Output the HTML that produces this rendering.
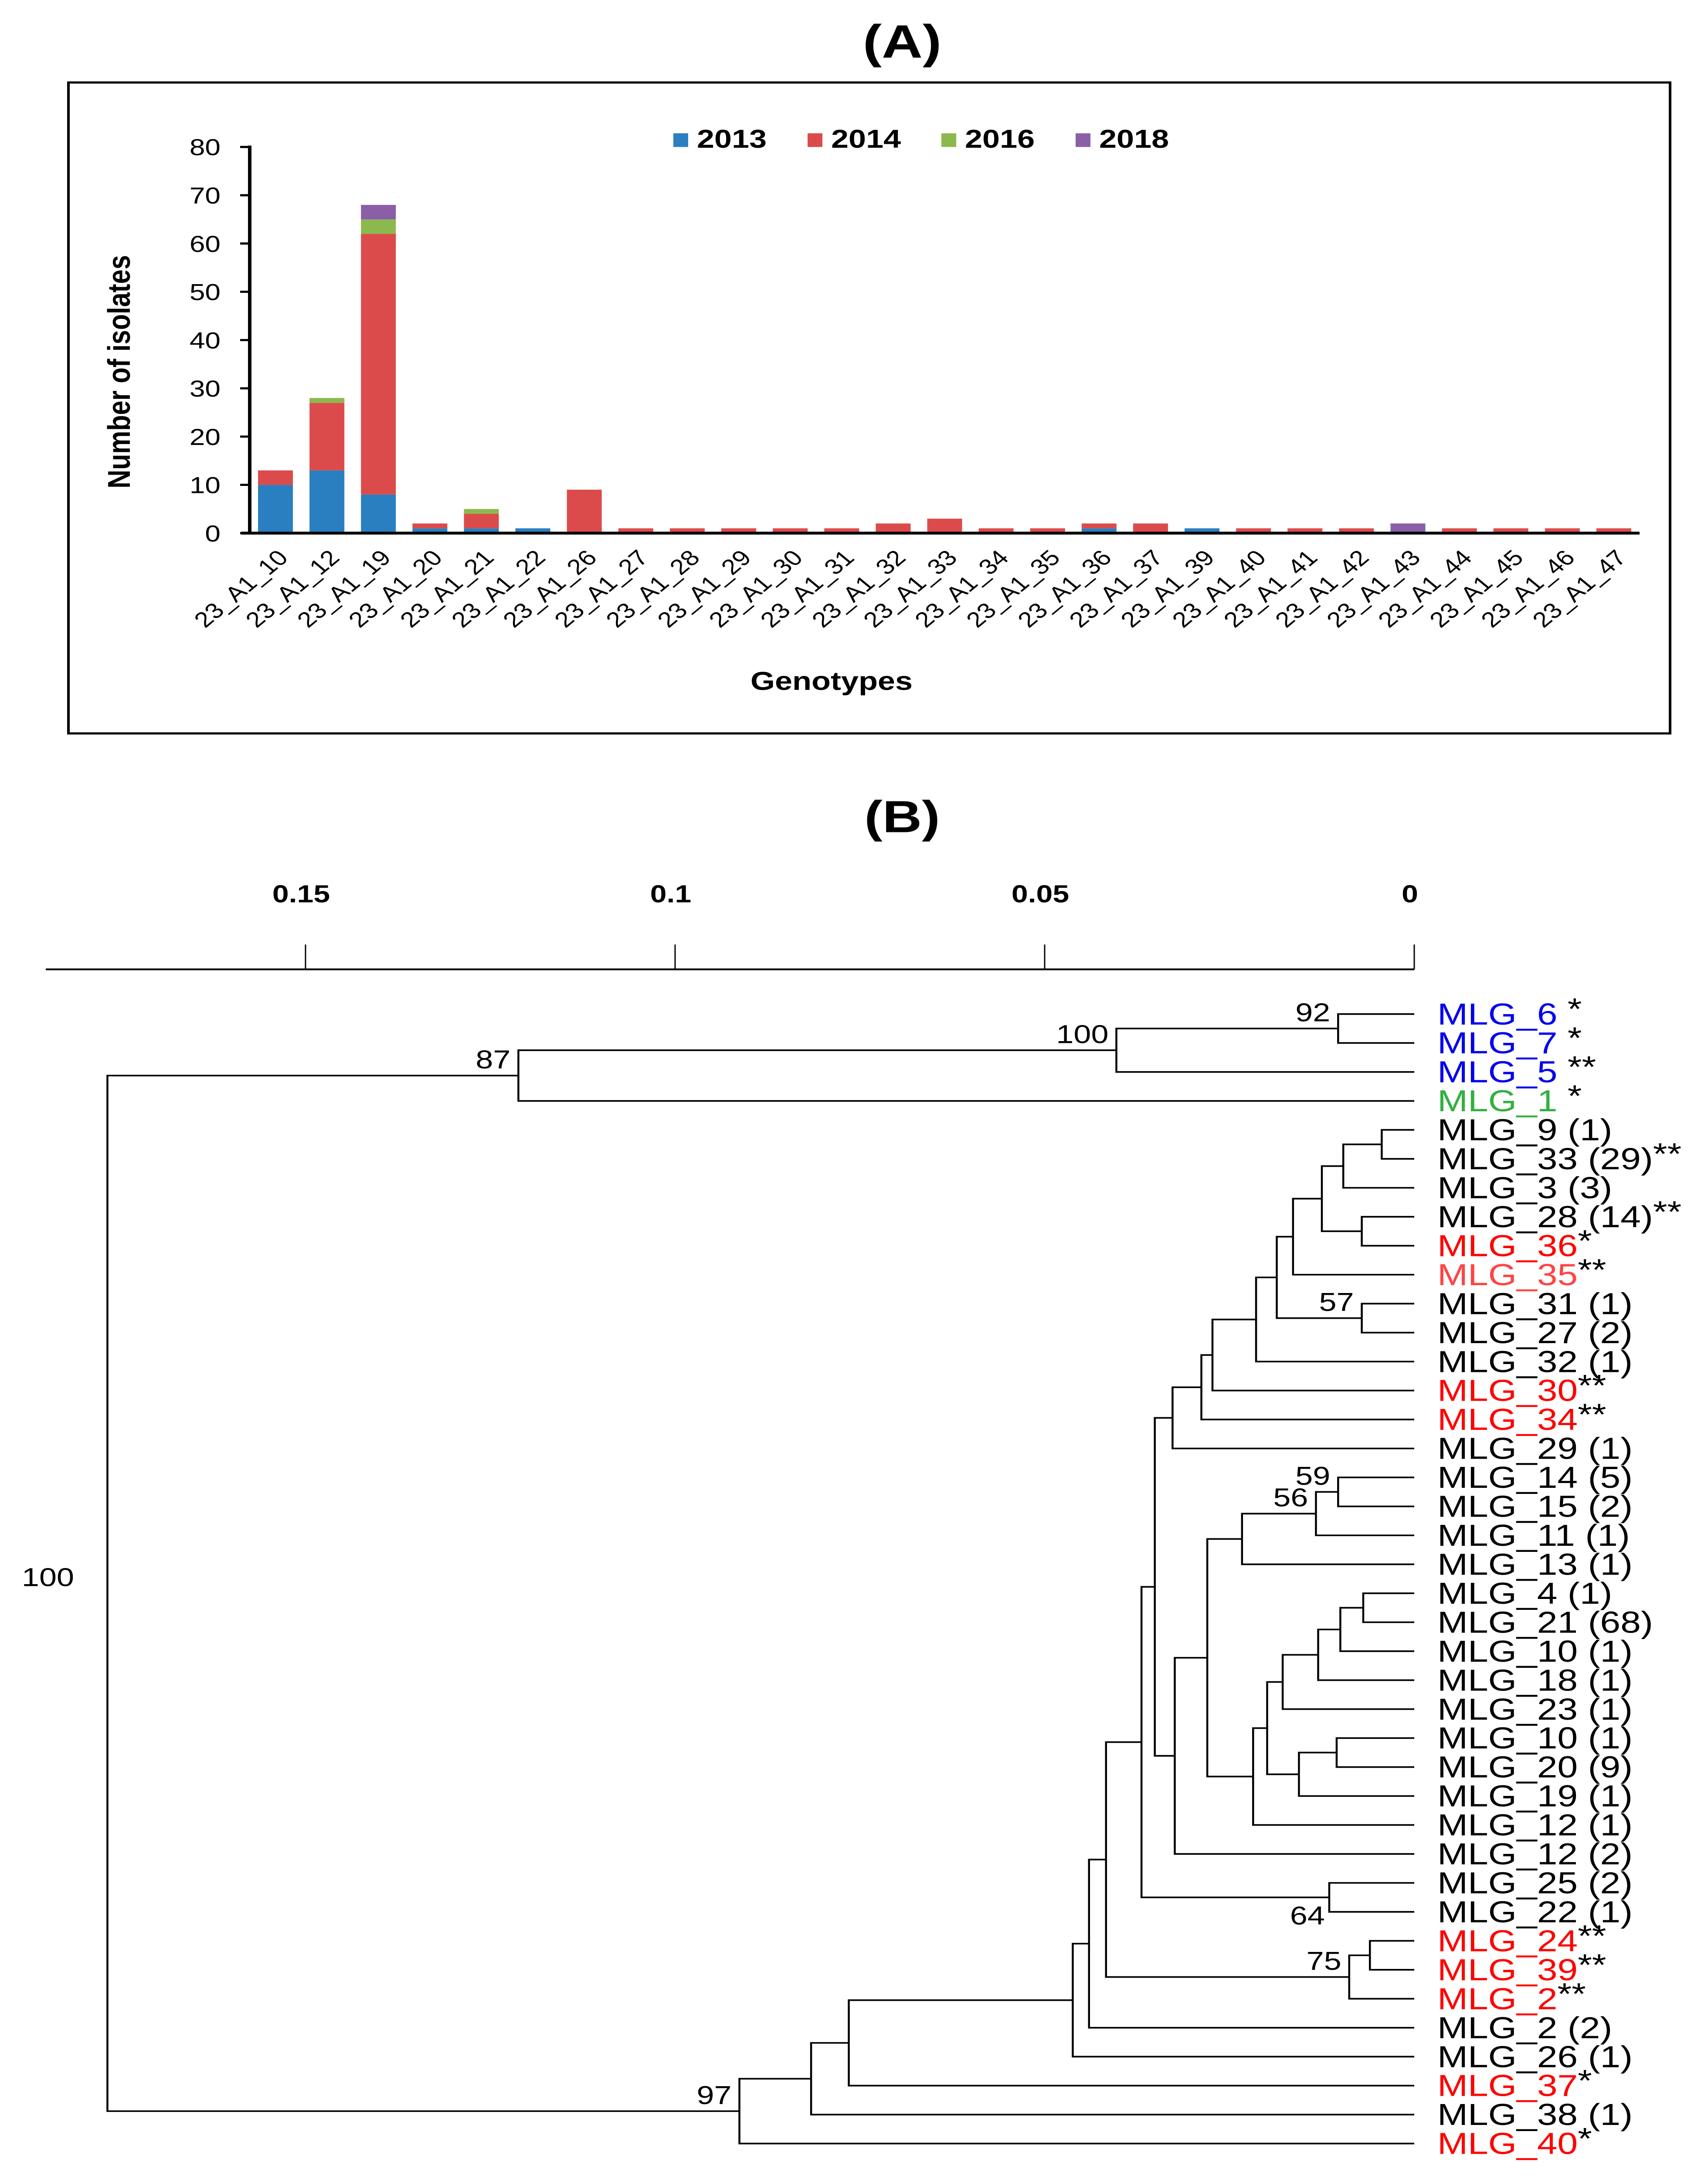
<!DOCTYPE html>
<html><head><meta charset="utf-8"><style>
html,body{margin:0;padding:0;background:#fff;overflow:hidden}
svg{display:block;width:100vw;height:100vh}
text{font-family:"Liberation Sans",Arial,sans-serif}
</style></head><body>
<svg id="fig" viewBox="0 0 3919 6049" preserveAspectRatio="none" xmlns="http://www.w3.org/2000/svg">
<rect x="0" y="0" width="3919" height="6049" fill="#fff"/>
<text x="2070" y="160" font-size="130" font-weight="bold" text-anchor="middle">(A)</text>
<rect x="157" y="229" width="3675" height="1807" fill="none" stroke="#000" stroke-width="6"/>
<g id="chartA"></g>
<text x="1908" y="1915" font-size="72" font-weight="bold" text-anchor="middle">Genotypes</text>
<text transform="translate(298,1032) rotate(-90)" font-size="72" font-weight="bold" text-anchor="middle">Number of isolates</text>
<text x="2070" y="2310" font-size="125" font-weight="bold" text-anchor="middle">(B)</text>
<g id="tree"></g>
</svg>
<script>
// ---------- Panel A data ----------
const categories = ["23_A1_10","23_A1_12","23_A1_19","23_A1_20","23_A1_21","23_A1_22","23_A1_26","23_A1_27","23_A1_28","23_A1_29","23_A1_30","23_A1_31","23_A1_32","23_A1_33","23_A1_34","23_A1_35","23_A1_36","23_A1_37","23_A1_39","23_A1_40","23_A1_41","23_A1_42","23_A1_43","23_A1_44","23_A1_45","23_A1_46","23_A1_47"];
const s2013 = [10,13,8,1,1,1,0,0,0,0,0,0,0,0,0,0,1,0,1,0,0,0,0,0,0,0,0];
const s2014 = [3,14,54,1,3,0,9,1,1,1,1,1,2,3,1,1,1,2,0,1,1,1,0,1,1,1,1];
const s2016 = [0,1,3,0,1,0,0,0,0,0,0,0,0,0,0,0,0,0,0,0,0,0,0,0,0,0,0];
const s2018 = [0,0,3,0,0,0,0,0,0,0,0,0,0,0,0,0,0,0,0,0,0,0,2,0,0,0,0];
const seriesNames = ["2013","2014","2016","2018"];
const yTicks = [0,10,20,30,40,50,60,70,80];

const NS="http://www.w3.org/2000/svg";
function mk(tag,attrs,parent){const e=document.createElementNS(NS,tag);for(const k in attrs)e.setAttribute(k,attrs[k]);parent.appendChild(e);return e;}

const colors=["#2a7fc1","#dc4b4b","#8cb94e","#8a5fa8"];
const gA=document.getElementById('chartA');
const axX0=573, axX1=3762, y0=1480, y80=408;
const yScale=v=>y0-(v/80)*(y0-y80);
const n=categories.length;
const step=(axX1-axX0)/n;
const xC=i=>axX0+step*(i+0.5);
const bw=80;
let ax=mk('line',{x1:axX0,y1:y80-4,x2:axX0,y2:y0,stroke:'#000','stroke-width':8},gA);


yTicks.forEach(t=>{
  const y=yScale(t);
  const tk=mk('line',{x1:axX0-22,y1:y,x2:axX0,y2:y,stroke:'#000','stroke-width':6},gA);
  
  
  const tl=mk('text',{x:506,y:y+23,'font-size':64,'text-anchor':'end'},gA);
  tl.textContent=t;
  
  
});
const series=[s2013,s2014,s2016,s2018];
categories.forEach((c,i)=>{
  let acc=0;
  series.forEach((s,k)=>{
    const v=s[i]; if(!v) return;
    const r=mk('rect',{x:xC(i)-bw/2,y:yScale(acc+v),width:bw,height:yScale(acc)-yScale(acc+v),fill:colors[k]},gA);
    
    
    acc+=v;
  });
  const t=mk('text',{transform:`translate(${xC(i)+32},${y0+72}) rotate(-45)`,'font-size':60,'text-anchor':'end'},gA);
  t.textContent=c;
  
  
});
let xa=mk('line',{x1:axX0-20,y1:y0,x2:axX1,y2:y0,stroke:'#000','stroke-width':8},gA);


const legX=[1545,1853,2160,2468];
seriesNames.forEach((s,k)=>{
  const g=mk('g',{},gA);
  
  
  mk('rect',{x:legX[k],y:370,width:34,height:38,fill:colors[k]},g);
  const t=mk('text',{x:legX[k]+54,y:410,'font-size':72,'font-weight':'bold'},g);
  t.textContent=s;
});

// ---------- Panel B data ----------
const leafNames=["MLG_6","MLG_7","MLG_5","MLG_1","MLG_9","MLG_33","MLG_3","MLG_28","MLG_36","MLG_35","MLG_31","MLG_27","MLG_32","MLG_30","MLG_34","MLG_29","MLG_14","MLG_15","MLG_11","MLG_13","MLG_4","MLG_21","MLG_10","MLG_18","MLG_23","MLG_10","MLG_20","MLG_19","MLG_12","MLG_12","MLG_25","MLG_22","MLG_24","MLG_39","MLG_2","MLG_2","MLG_26","MLG_37","MLG_38","MLG_40"];
const leafCounts=["","","","","(1)","(29)","(3)","(14)","","","(1)","(2)","(1)","","","(1)","(5)","(2)","(1)","(1)","(1)","(68)","(1)","(1)","(1)","(1)","(9)","(1)","(1)","(2)","(2)","(1)","","","","(2)","(1)","","(1)",""];
const leafStars=["*","*","**","*","","**","","**","*","**","","","","**","**","","","","","","","","","","","","","","","","","","**","**","**","","","*","","*"];
const leafColors=["#0000ee","#0000ee","#0000ee","#33b040","#000","#000","#000","#000","#ff0000","#ff4444","#000","#000","#000","#ff0000","#ff0000","#000","#000","#000","#000","#000","#000","#000","#000","#000","#000","#000","#000","#000","#000","#000","#000","#000","#ff0000","#ff0000","#ff0000","#000","#000","#ff0000","#000","#ff0000"];
const nodeIds=["A","B","C","D","E","F","G","H","I","J","K","L","M","N","O","P","Q","R","S","T","U","V","W","X","Y","Z","AA","AB","AC","AD","AE","AF","AG","AH","AI","AJ","AK","AL","ROOT"];
const nodeKids=[["0","1"],["A","2"],["B","3"],["4","5"],["D","6"],["7","8"],["E","F"],["G","9"],["10","11"],["H","I"],["J","12"],["K","13"],["L","14"],["M","15"],["16","17"],["O","18"],["P","19"],["20","21"],["R","22"],["S","23"],["T","24"],["25","26"],["V","27"],["U","W"],["X","28"],["Q","Y"],["Z","29"],["N","AA"],["30","31"],["AB","AC"],["32","33"],["AE","34"],["AD","AF"],["AG","35"],["AH","36"],["AI","37"],["AJ","38"],["AK","39"],["C","AL"]];
const nodeDist=[0.0103,0.0403,0.1212,0.0044,0.0096,0.0071,0.0125,0.0164,0.0071,0.0186,0.0214,0.0273,0.0288,0.0327,0.0103,0.0133,0.0233,0.0069,0.0100,0.0130,0.0178,0.0105,0.0156,0.0199,0.0218,0.0280,0.0324,0.0351,0.0115,0.0369,0.0060,0.0088,0.0417,0.0440,0.0462,0.0765,0.0816,0.0913,0.1768];
const nodeBoot=["92","100","87","","","","","","57","","","","","","59","56","","","","","","","","","","","","","64","","","75","","","","","","97","100"];
const scaleTicks=[0.15,0.1,0.05,0];

const gT=document.getElementById('tree');
const xD=d=>3245-d*16960;
const leafY=i=>2815+i*80.4;
let sb=mk('line',{x1:105,y1:2691,x2:xD(0),y2:2691,stroke:'#000','stroke-width':5},gT);


scaleTicks.forEach(t=>{
  const x=xD(t);
  const l=mk('line',{x1:x,y1:2622,x2:x,y2:2691,stroke:'#000','stroke-width':3},gT);
  
  
  const tx=mk('text',{x:x-10,y:2505,'font-size':68,'font-weight':'bold','text-anchor':'middle'},gT);
  tx.textContent=String(t);
  
  
});
const pos={};
leafNames.forEach((nm,i)=>{pos[String(i)]={x:xD(0),y:leafY(i)};});
const lw=4.5;
nodeIds.forEach((id,k)=>{
  const [a,b]=nodeKids[k];
  const x=xD(nodeDist[k]);
  const pa=pos[a], pb=pos[b];
  const y=(pa.y+pb.y)/2;
  pos[id]={x:x,y:y};
  const p=mk('path',{d:`M${pa.x},${pa.y}H${x}V${pb.y}H${pb.x}`,fill:'none',stroke:'#000','stroke-width':lw},gT);
  
  
  if(nodeBoot[k]){
    let t;
    if(id==='ROOT'){t=mk('text',{x:110,y:y-20,'font-size':72,'text-anchor':'middle'},gT);}
    else if(id==='AC'){t=mk('text',{x:x-10,y:y+75,'font-size':72,'text-anchor':'end'},gT);}
    else {t=mk('text',{x:x-18,y:y-20,'font-size':72,'text-anchor':'end'},gT);}
    t.textContent=nodeBoot[k];
    
    
  }
});
leafNames.forEach((nm,i)=>{
  const y=leafY(i);
  const t=mk('text',{x:3298,y:y+29,'font-size':84,fill:leafColors[i]},gT);
  
  
  const s1=mk('tspan',{},t); s1.textContent=nm+(leafCounts[i]?' '+leafCounts[i]:'');
  s1.setAttribute('fill',leafColors[i]);
  if(leafStars[i]){
    const sp=(i<4)?' ':'';
    const s2=mk('tspan',{fill:'#000',dy:-14},t); s2.textContent=sp+leafStars[i];
  }
});
</script>
</body></html>
